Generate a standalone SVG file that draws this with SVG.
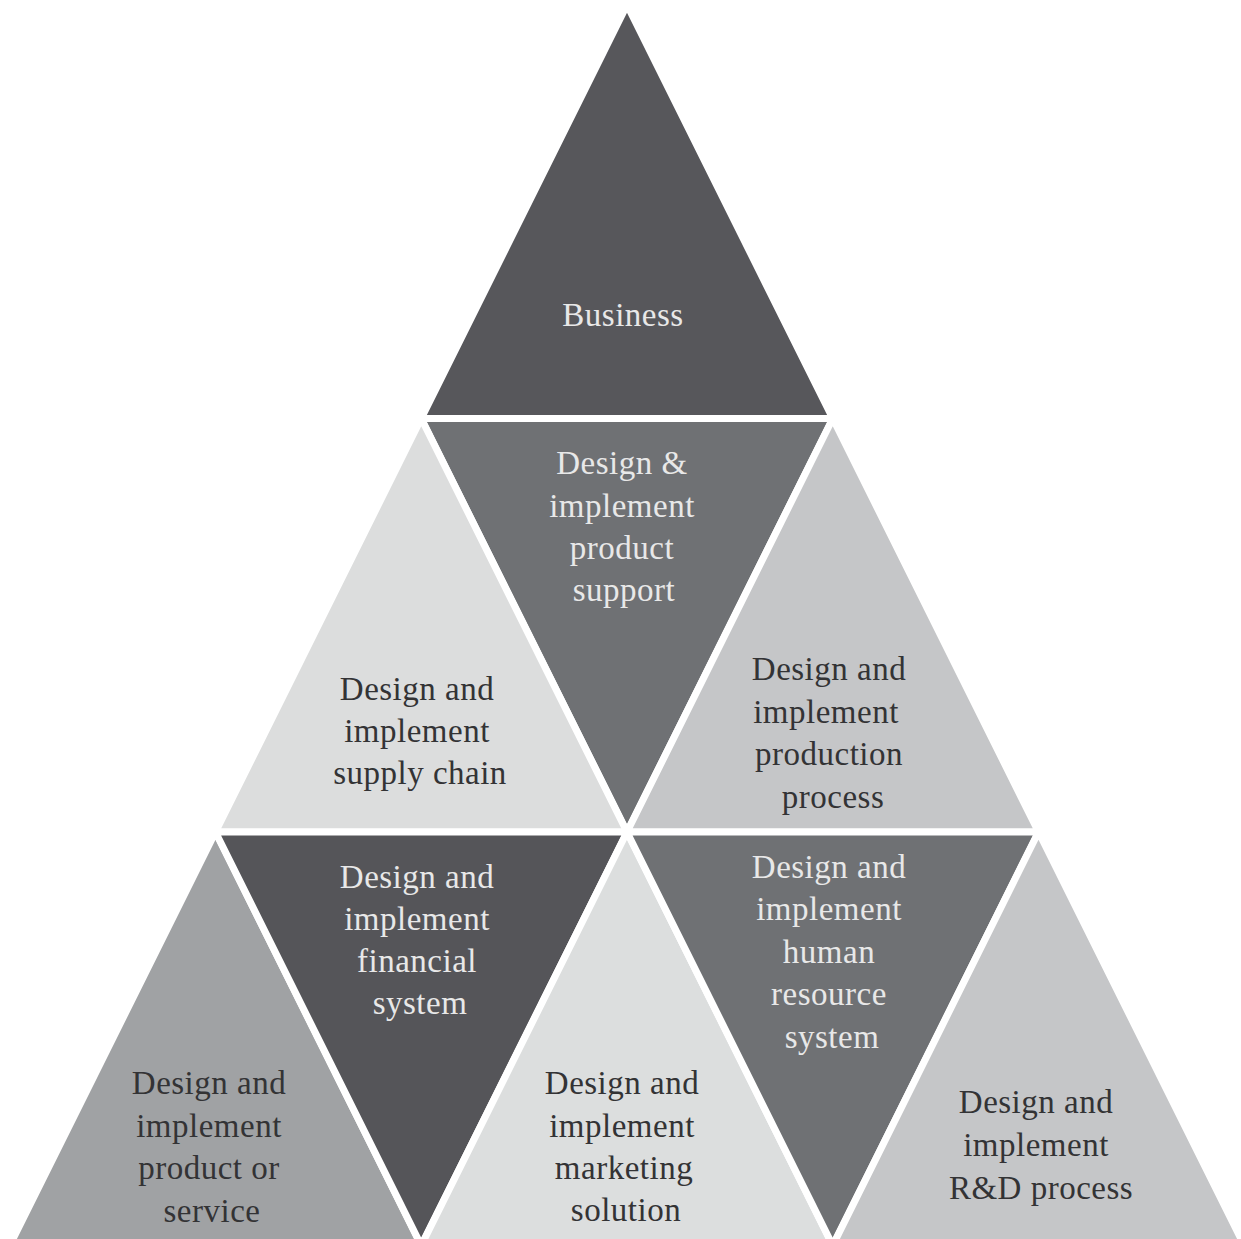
<svg xmlns="http://www.w3.org/2000/svg" width="1241" height="1239" viewBox="0 0 1241 1239">
<style>
.t{stroke:#ffffff;stroke-width:7;stroke-linejoin:miter;stroke-miterlimit:10}
.lbl{font-family:"Liberation Serif","Times New Roman",serif;font-size:33px;text-anchor:middle;letter-spacing:0.5px}
.lt{fill:#e8e8e8}
.dk{fill:#333335}
</style>
<rect width="1241" height="1239" fill="#ffffff"/>
<g id="business">
<polygon class="t" fill="#57575b" points="627,5 832.75,418.5 421.25,418.5"/>
<text class="lbl lt" x="623" y="326">Business</text>
</g>
<g id="product-support">
<polygon class="t" fill="#6f7174" points="421.25,418.5 832.75,418.5 627,832"/>
<text class="lbl lt" x="622"><tspan x="622" y="474">Design &amp;</tspan><tspan x="622" y="517">implement</tspan><tspan x="622" y="559">product</tspan><tspan x="624" y="601">support</tspan></text>
</g>
<g id="supply-chain">
<polygon class="t" fill="#dcdddd" points="421.25,418.5 627,832 215.5,832"/>
<text class="lbl dk"><tspan x="417" y="700">Design and</tspan><tspan x="417" y="742">implement</tspan><tspan x="420" y="784">supply chain</tspan></text>
</g>
<g id="production-process">
<polygon class="t" fill="#c5c6c8" points="832.75,418.5 1038.5,832 627,832"/>
<text class="lbl dk"><tspan x="829" y="680">Design and</tspan><tspan x="826" y="723">implement</tspan><tspan x="829" y="765">production</tspan><tspan x="833" y="808">process</tspan></text>
</g>
<g id="product-service">
<polygon class="t" fill="#a0a2a4" points="215.5,832 421.25,1245.5 9.75,1245.5"/>
<text class="lbl dk"><tspan x="209" y="1094">Design and</tspan><tspan x="209" y="1137">implement</tspan><tspan x="209" y="1179">product or</tspan><tspan x="212" y="1222">service</tspan></text>
</g>
<g id="financial-system">
<polygon class="t" fill="#555559" points="215.5,832 627,832 421.25,1245.5"/>
<text class="lbl lt"><tspan x="417" y="888">Design and</tspan><tspan x="417" y="930">implement</tspan><tspan x="417" y="972">financial</tspan><tspan x="420" y="1014">system</tspan></text>
</g>
<g id="marketing-solution">
<polygon class="t" fill="#dcdede" points="627,832 832.75,1245.5 421.25,1245.5"/>
<text class="lbl dk"><tspan x="622" y="1094">Design and</tspan><tspan x="622" y="1137">implement</tspan><tspan x="624" y="1179">marketing</tspan><tspan x="626" y="1221">solution</tspan></text>
</g>
<g id="human-resource-system">
<polygon class="t" fill="#6f7174" points="627,832 1038.5,832 832.75,1245.5"/>
<text class="lbl lt"><tspan x="829" y="878">Design and</tspan><tspan x="829" y="920">implement</tspan><tspan x="829" y="963">human</tspan><tspan x="829" y="1005">resource</tspan><tspan x="832" y="1048">system</tspan></text>
</g>
<g id="rd-process">
<polygon class="t" fill="#c5c6c8" points="1038.5,832 1244.25,1245.5 832.75,1245.5"/>
<text class="lbl dk"><tspan x="1036" y="1113">Design and</tspan><tspan x="1036" y="1156">implement</tspan><tspan x="1041" y="1199">R&amp;D process</tspan></text>
</g>
<g id="connectors"></g>
</svg>
